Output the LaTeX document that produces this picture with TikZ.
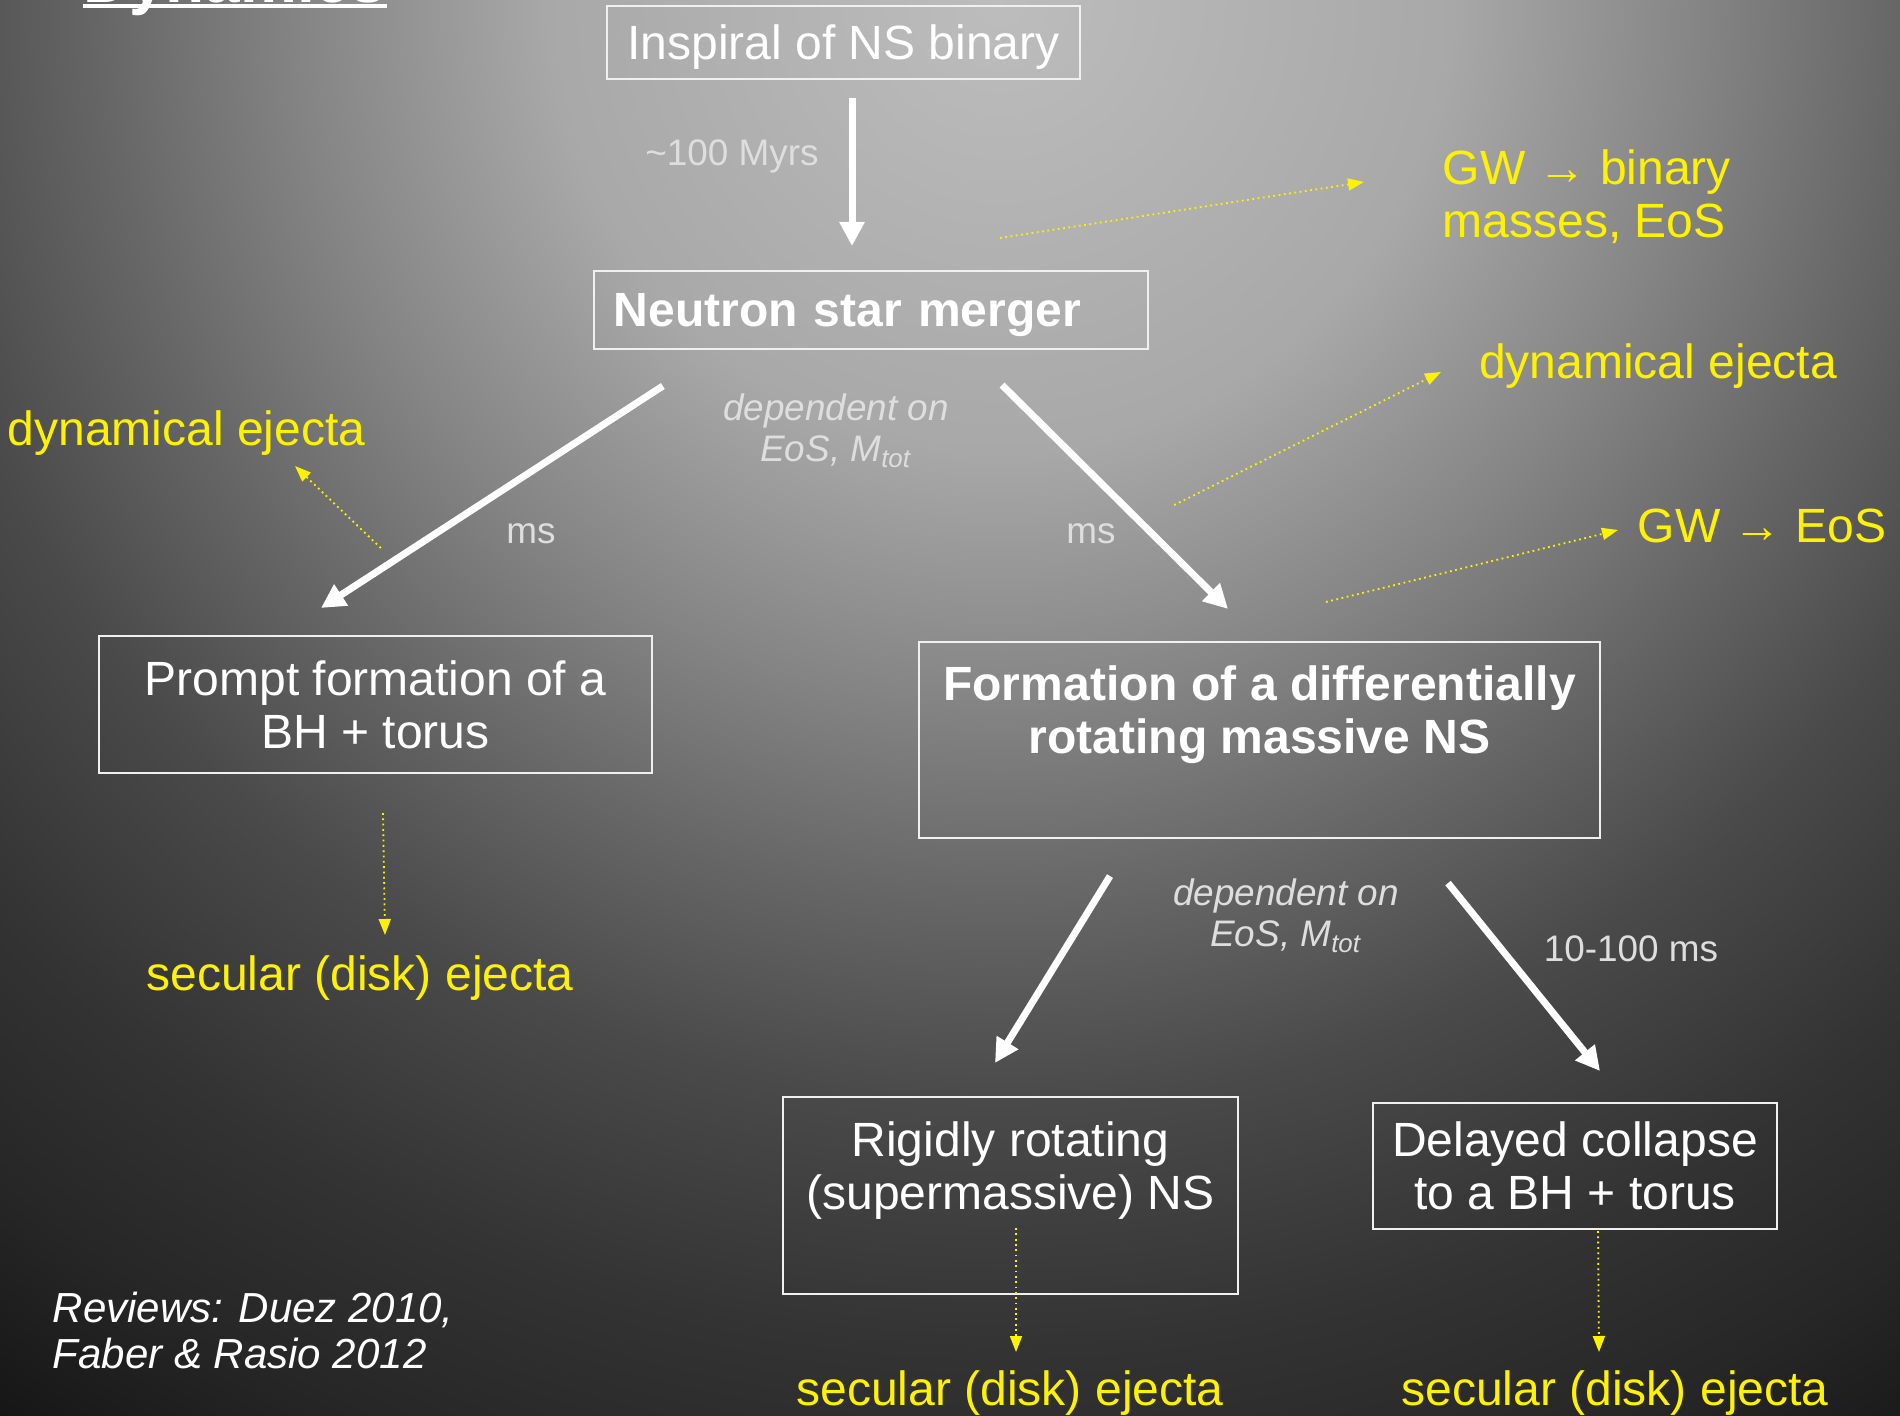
\documentclass[tikz,border=0pt]{standalone}
\usepackage{fontspec}
\setmainfont{Liberation Sans}
\usetikzlibrary{arrows.meta,positioning,calc}

\newcommand{\bodysize}{\fontsize{13.66pt}{15.1pt}\selectfont}
\newcommand{\labelsize}{\fontsize{10.5pt}{11.7pt}\selectfont}
\newcommand{\refsize}{\fontsize{11.95pt}{13.1pt}\selectfont}
\newcommand{\titlesize}{\fontsize{18.2pt}{20pt}\selectfont}

\pgfdeclareradialshading{bgglow}{\pgfpoint{0cm}{0cm}}{%
  color(0cm)=(black!26); color(4.5cm)=(black!34); color(7cm)=(black!48);
  color(9cm)=(black!60); color(11cm)=(black!71); color(13.5cm)=(black!80);
  color(15.5cm)=(black!85); color(17.5cm)=(black!92); color(19cm)=(black!94)}

\begin{document}
\begin{tikzpicture}[
  x=0.01cm, y=-0.01cm,
  font=\bodysize,
  box/.style={draw=white!94!black,line width=0.02cm,text=white,align=center,inner sep=0pt},
  boxtext/.style={text=white,align=center,inner sep=0pt},
  lbl/.style={text=black!13,inner sep=0pt,font=\labelsize,align=center},
  ylbl/.style={text=yellow,inner sep=0pt,align=left},
  flow/.style={draw=white,line width=0.07cm,-{Triangle[length=0.24cm,width=0.24cm]}},
  hint/.style={draw=yellow,line width=0.018cm,densely dotted,-{Triangle[length=0.16cm,width=0.12cm]}}
]
\useasboundingbox (0,0) rectangle (1900,1415);

% background
\begin{scope}
  \clip (0,0) rectangle (1900,1415);
  \node[inner sep=0pt] (glow) at (1000,0) {\pgfuseshading{bgglow}};
\end{scope}

% title, cut at the top
\node[text=white,font=\titlesize\bfseries,anchor=base west,inner sep=0pt] (title) at (83,2) {Dynamics};
\draw[white,line width=0.04cm] ([yshift=-0.04cm]title.base west) -- ([yshift=-0.04cm]title.base east);

% boxes
\node[box,minimum width=4.73cm,minimum height=0.73cm,text depth=0pt] (inspiral) at (843.5,42.5) {Inspiral of NS binary};
\node[box,font=\bodysize\bfseries,text width=5.14cm,align=left,inner xsep=0.2cm,minimum height=0.78cm,text depth=0pt] (merger) at (871,310) {Neutron star merger};
\node[box,minimum width=5.53cm,minimum height=1.37cm] (prompt) at (375.5,704.5) {Prompt formation of a\\BH + torus};
\node[box,minimum width=6.81cm,minimum height=1.96cm] (diff) at (1259.5,740) {};
\node[boxtext,font=\bodysize\bfseries,below=0.24cm of diff.north] (difftxt) {Formation of a differentially\\rotating massive NS};
\node[box,minimum width=4.55cm,minimum height=1.97cm] (rigid) at (1010.5,1195.5) {};
\node[boxtext,below=0.25cm of rigid.north] (rigidtxt) {Rigidly rotating\\(supermassive) NS};
\node[box,minimum width=4.04cm,minimum height=1.26cm] (delayed) at (1575,1166) {Delayed collapse\\to a BH + torus};

% timescales
\node[lbl,anchor=base] (myrs) at (732,165) {\textasciitilde100 Myrs};
\node[lbl,anchor=base] (msL) at (531,543) {ms};
\node[lbl,anchor=base] (msR) at (1091,543) {ms};
\node[lbl,anchor=base] (tenms) at (1631,961) {10-100 ms};
\node[lbl,font=\labelsize\itshape] (depA) at (836,431) {dependent on\\EoS, M\textsubscript{tot}};
\node[lbl,font=\labelsize\itshape] (depB) at (1286,916) {dependent on\\EoS, M\textsubscript{tot}};

% observables
\node[ylbl,anchor=west] (gwbin) at (1442,197) {GW → binary\\masses, EoS};
\node[ylbl,anchor=base] (dynR) at (1658,378) {dynamical ejecta};
\node[ylbl,anchor=base] (gweos) at (1762,542) {GW → EoS};
\node[ylbl,anchor=base] (dynL) at (186.5,445) {dynamical ejecta};
\node[ylbl,anchor=base] (secL) at (360,990) {secular (disk) ejecta};
\node[ylbl,anchor=base] (secM) at (1010,1405) {secular (disk) ejecta};
\node[ylbl,anchor=base] (secR) at (1615,1405) {secular (disk) ejecta};

\node[text=white,font=\refsize\itshape,align=left,anchor=north west,inner sep=0pt] (refs) at (52,1291) {Reviews: Duez 2010,\\Faber \& Rasio 2012};

% evolution
\draw[flow] ([shift={(8.5,18)}]inspiral.south) -- ([shift={(-19,-24)}]merger.north);
\draw[flow] ([shift={(70,36)}]merger.south west) -- ([shift={(-54.5,-27)}]prompt.north);
\draw[flow] ([shift={(131,35)}]merger.south) -- ([shift={(-31.5,-32)}]diff.north);
\draw[flow] ([shift={(-149.5,37)}]diff.south) -- ([shift={(-15.5,-33)}]rigid.north);
\draw[flow] ([shift={(188.5,44)}]diff.south) -- ([shift={(25,-31)}]delayed.north);

% signals
\draw[hint] ([shift={(129,-32)}]merger.north) -- ([shift={(-78,-15)}]gwbin.west);
\draw[hint] ([shift={(25,155)}]merger.south east) -- ([shift={(-217,-6)}]dynR.base);
\draw[hint] ([shift={(66.5,-39)}]diff.north) -- ([shift={(-144,-12)}]gweos.base);
\draw[hint] ([shift={(-212,198)}]merger.south west) -- ([shift={(108.5,21)}]dynL.base);
\draw[hint] ([shift={(7.5,39)}]prompt.south) -- ([shift={(25,-55)}]secL.base);
\draw[hint] ([shift={(5.5,-67)}]rigid.south) -- ([shift={(6,-53)}]secM.base);
\draw[hint] ([shift={(23,1)}]delayed.south) -- ([shift={(-16,-53)}]secR.base);
\end{tikzpicture}
\end{document}
